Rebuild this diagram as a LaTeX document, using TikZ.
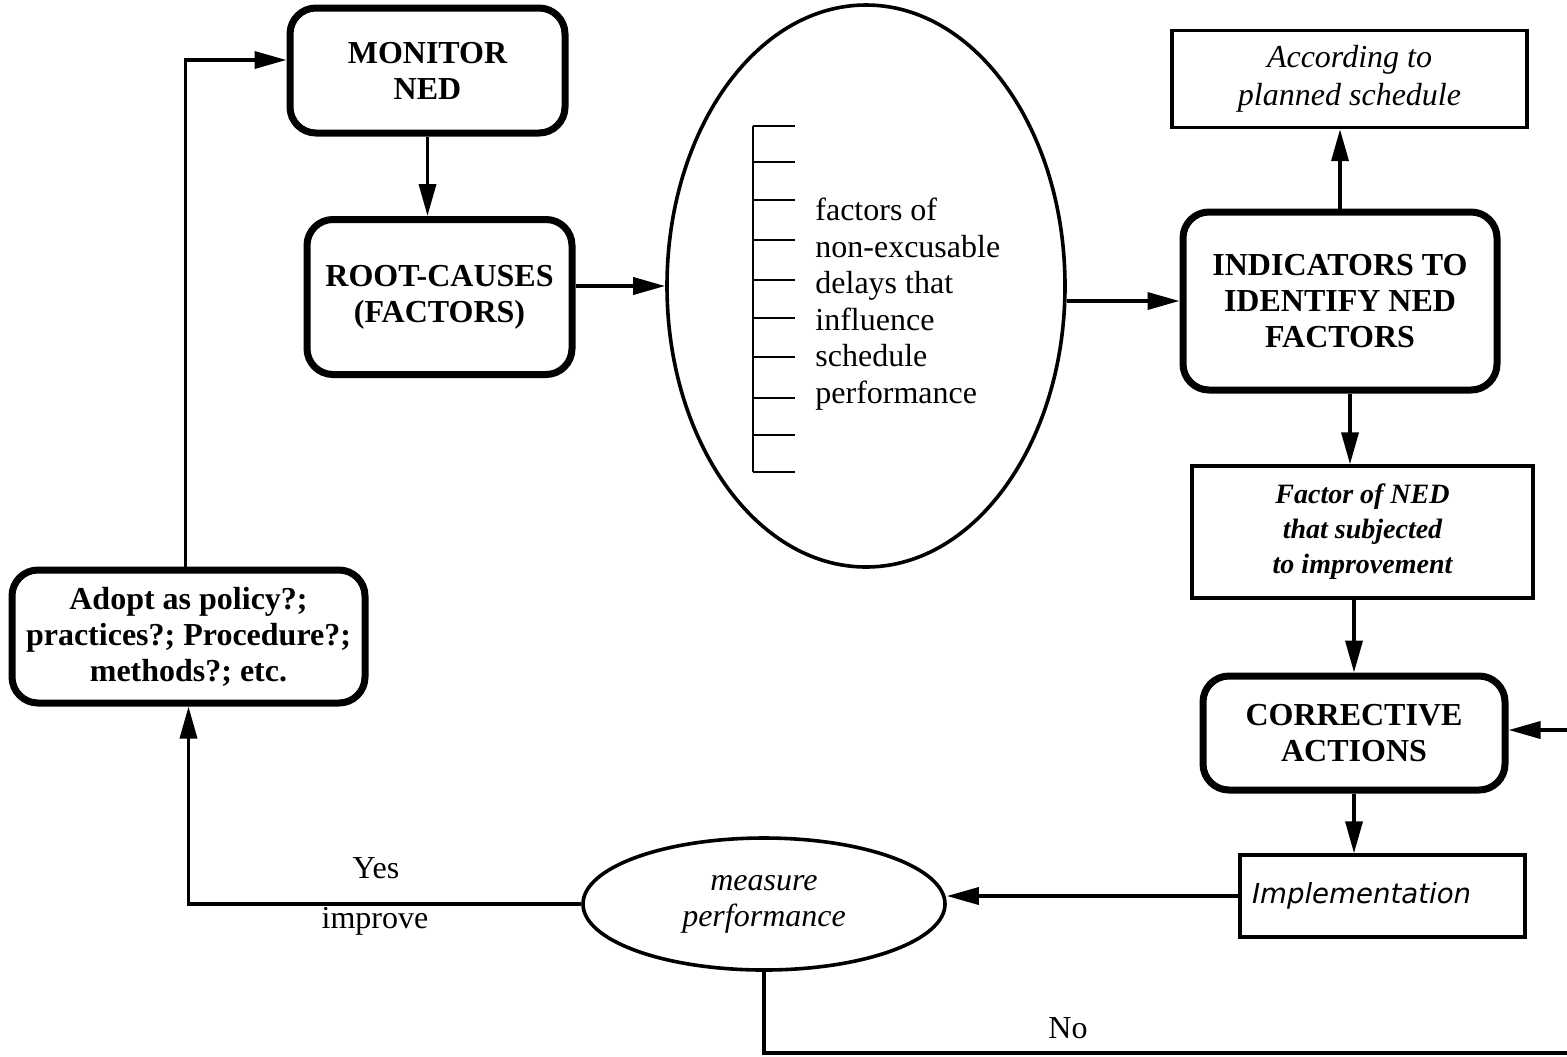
\documentclass[tikz,border=0pt]{standalone}
\usepackage{fontspec}
\setmainfont{Liberation Serif}
\newfontfamily\impfont{DejaVu Sans}
\usetikzlibrary{arrows.meta,shapes.geometric}
\begin{document}
\begin{tikzpicture}[x=0.5pt,y=-0.5pt,
  font=\fontsize{16}{18}\selectfont,
  roundbox/.style={draw,line width=3.5pt,rounded corners=13pt,align=center,inner sep=0pt,font=\fontsize{16}{18}\selectfont\bfseries},
  plainbox/.style={draw,line width=1.7pt,align=center,inner sep=0pt},
  arr/.style={-{Triangle[length=16pt,width=8.5pt]},line width=1.8pt},
  wire/.style={line width=1.8pt}]
\useasboundingbox (0,0) rectangle (1567,1056);

% main process boxes
\node[roundbox,minimum width=137.5pt,minimum height=62.5pt] (mon) at (427.5,70.5) {MONITOR\\NED};
\node[roundbox,minimum width=132.5pt,minimum height=77.5pt] (root) at (439.5,297) {ROOT-CAUSES\\(FACTORS)};
\node[draw,ellipse,line width=1.8pt,minimum width=199pt,minimum height=281pt,inner sep=0pt] (fac) at (866,286) {};
\node[roundbox,minimum width=157pt,minimum height=89pt] (ind) at (1340,301) {INDICATORS TO\\IDENTIFY NED\\FACTORS};
\node[plainbox,minimum width=177.5pt,minimum height=48.5pt,font=\fontsize{16}{18.5}\selectfont\itshape] (acc) at (1349.5,79) {According to\\[0.5pt]planned schedule};
\node[plainbox,minimum width=170.5pt,minimum height=66pt,font=\fontsize{14}{17.5}\selectfont\bfseries\itshape] (fnd) at (1362.5,532) {Factor of NED\\that subjected\\to improvement};
\node[roundbox,minimum width=151pt,minimum height=57pt] (cor) at (1354,733) {CORRECTIVE\\ACTIONS};
\node[plainbox,minimum width=142.5pt,minimum height=41pt,inner xsep=6pt,text width=130.5pt,align=left,font=\impfont\itshape\fontsize{13.8}{15}\selectfont] (imp) at (1382.5,896) {Implementation};
\node[draw,ellipse,line width=1.8pt,minimum width=181pt,minimum height=66pt,inner sep=0pt,align=center,font=\fontsize{16}{18}\selectfont\itshape] (meas) at (764,904) {measure\\performance};
\node[roundbox,minimum width=176.5pt,minimum height=66.5pt] (adopt) at (188.5,636.5) {Adopt as policy?;\\practices?; Procedure?;\\methods?; etc.};

% list of factors inside the ellipse
\draw[line width=1.3pt] (753,126) -- (753,472);
\foreach \ty in {126,162,200,240,280,318,357,398,435,472}
  \draw[line width=1.3pt] (753,\ty) -- (795,\ty);
\node[anchor=west,align=left,inner sep=0pt,font=\fontsize{16}{18.25}\selectfont] (factxt) at (815,304)
  {factors of\\non-excusable\\delays that\\influence\\schedule\\performance};

% free ends at the right margin
\coordinate (rin) at (1567,730);
\coordinate (nout) at (1567,1053);

% connectors
\draw[arr] (mon.south) -- (mon.south |- root.north);
\draw[arr] (root.east |- fac.west) -- (fac.west);
\draw[arr] (fac.east |- ind.west) -- (ind.west);
\draw[arr] (ind.north) -- (ind.north |- acc.south);
\draw[arr] ([xshift=5pt]ind.south) -- ([xshift=5pt]ind.south |- fnd.north);
\draw[arr] (cor.north |- fnd.south) -- (cor.north);
\draw[arr] (rin) -- (rin -| cor.east);
\draw[arr] (cor.south) -- (cor.south |- imp.north);
\draw[arr] (imp.west) -- (imp.west -| meas.east);
\draw[arr] (meas.west) -| (adopt.south);
\draw[arr] ([xshift=-1.5pt]adopt.north) |- ([yshift=5.25pt]mon.west);
\draw[wire] (meas.south) |- (nout);

% branch labels
\node (yes) at (376,868) {Yes};
\node (impr) at (375,921) {improve};
\node (no) at (1068,1028) {No};
\end{tikzpicture}
\end{document}
